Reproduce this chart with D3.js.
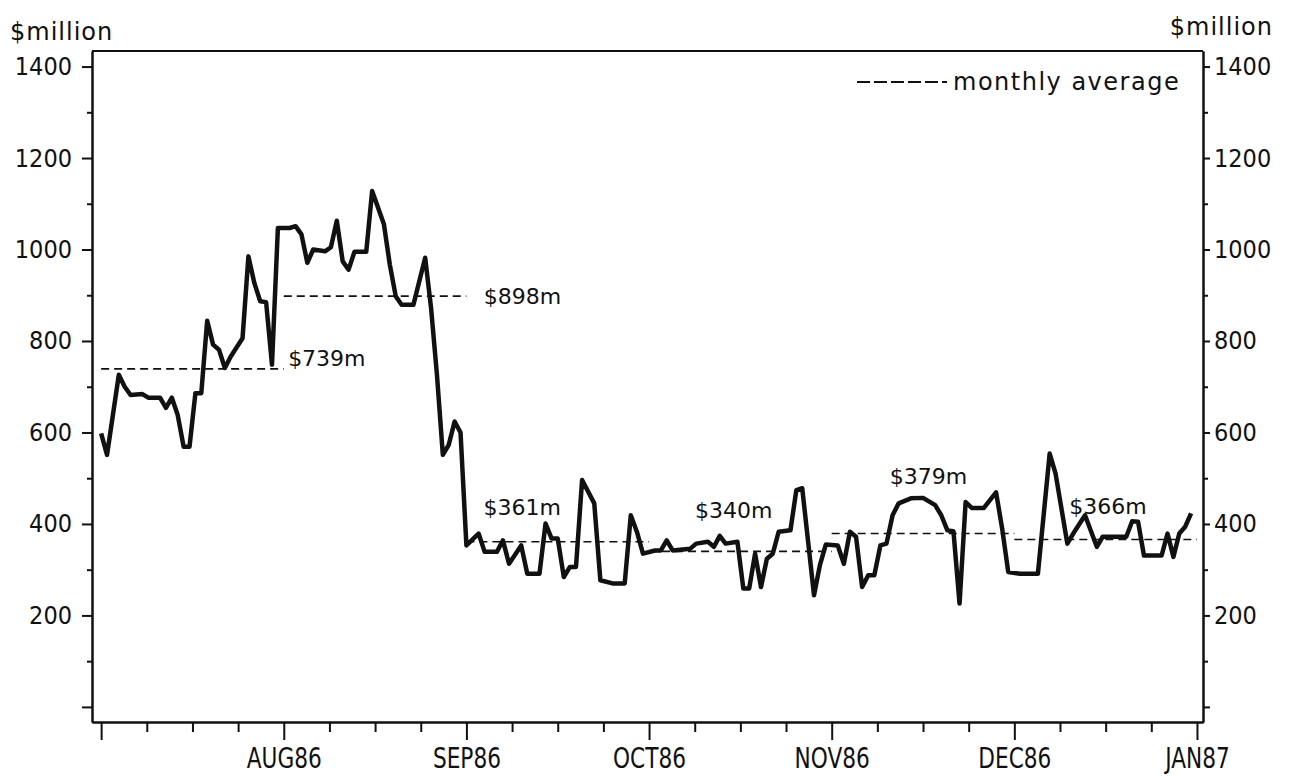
<!DOCTYPE html>
<html>
<head>
<meta charset="utf-8">
<script src="https://cdn.jsdelivr.net/npm/d3@7"></script>
<style>
  body { margin: 0; background: #fff; }
  svg { display: block; }
  .tick line, .domain { stroke: #111; stroke-width: 2; }
  .ylab text { font-family: "DejaVu Sans Condensed", "DejaVu Sans", sans-serif; font-stretch: condensed; font-size: 25px; fill: #111; }
  .xlab text { font-family: "DejaVu Sans Condensed", "DejaVu Sans", sans-serif; font-stretch: condensed; font-size: 28px; fill: #111; }
  .unit { font-family: "DejaVu Sans", sans-serif; font-size: 24px; letter-spacing: 1px; fill: #111; }
  .avglab { font-family: "DejaVu Sans", sans-serif; font-size: 22px; fill: #111; }
  .legend { font-family: "DejaVu Sans", sans-serif; font-size: 24px; letter-spacing: 1.5px; fill: #111; }
</style>
</head>
<body>
<svg id="chart" width="1300" height="776"></svg>
<script>
// month labels on the x axis (index 0 = JUL86, unlabelled)
const months = ["", "AUG86", "SEP86", "OCT86", "NOV86", "DEC86", "JAN87"];
const monthDays = [31, 31, 30, 31, 30, 31];

// daily values, [day of month, $million]
const jul = [[1,598],[2,551],[4,726],[5,700],[6,682],[8,684],[9,676],[11,676],[12,654],[13,676],[14,638],[15,569],[16,569],[17,686],[18,686],[19,844],[20,792],[21,781],[22,741],[23,766],[25,806],[26,985],[27,927],[28,887],[29,885],[30,748],[31,1047]];
const aug = [[2,1047],[3,1051],[4,1033],[5,971],[6,1000],[8,996],[9,1005],[10,1063],[11,974],[12,956],[13,995],[15,995],[16,1128],[18,1055],[19,967],[20,898],[21,879],[23,879],[25,982],[26,872],[27,726],[28,551],[29,573],[30,624],[31,600]];
const sep = [[1,353],[3,379],[4,339],[6,339],[7,364],[8,313],[10,353],[11,291],[13,291],[14,401],[15,368],[16,368],[17,284],[18,306],[19,306],[20,496],[22,445],[23,277],[25,270],[27,270],[28,419],[29,383],[30,335]];
const oct = [[2,342],[3,342],[4,364],[5,342],[8,346],[9,357],[11,361],[12,350],[13,374],[14,357],[16,361],[17,259],[18,259],[19,335],[20,262],[21,324],[22,335],[23,383],[25,386],[26,474],[27,478],[28,361],[29,244],[30,310],[31,355]];
const nov = [[2,353],[3,313],[4,383],[5,372],[6,262],[7,288],[8,288],[9,353],[10,357],[11,419],[12,445],[14,456],[16,457],[18,441],[19,419],[20,386],[21,384],[22,226],[23,448],[24,435],[26,435],[28,469],[29,390],[30,295]];
const dec = [[2,291],[5,291],[7,554],[8,510],[10,357],[11,379],[13,419],[15,350],[16,372],[20,372],[21,406],[22,405],[23,331],[26,331],[27,379],[28,328],[29,379],[30,394],[31,423]];

// monthly averages, $million
const averages = [739, 898, 361, 340, 379, 366];

const yMajor = [0, 200, 400, 600, 800, 1000, 1200, 1400];
const yMinor = [100, 300, 500, 700, 900, 1100, 1300];

const svg = d3.select("#chart");
const plotL = 92, plotR = 1203, plotT = 51, plotB = 722;

const x = d3.scaleLinear().domain([-0.05, 6.033]).range([plotL, plotR]);
const y = d3.scaleLinear().domain([-33, 1434]).range([plotB, plotT]);

const toT = (m, day) => m + (day - 1) / monthDays[m];
const series = [jul, aug, sep, oct, nov, dec].flatMap((arr, m) =>
  arr.map(([d, v]) => ({t: toT(m, d), v})));

// frame
svg.append("line").attr("x1", plotL).attr("x2", plotR).attr("y1", plotT).attr("y2", plotT)
  .attr("stroke", "#111").attr("stroke-width", 2);

// y axes
svg.append("g").attr("transform", `translate(${plotL},0)`)
  .call(d3.axisLeft(y).tickValues(yMinor).tickSize(5).tickSizeOuter(0).tickFormat(""));
svg.append("g").attr("class", "ylab").attr("transform", `translate(${plotL},0)`)
  .call(d3.axisLeft(y).tickValues(yMajor).tickSize(10).tickSizeOuter(0).tickPadding(10)
    .tickFormat(d => d ? d : ""));
svg.append("g").attr("transform", `translate(${plotR},0)`)
  .call(d3.axisRight(y).tickValues(yMinor).tickSize(5).tickSizeOuter(0).tickFormat(""));
svg.append("g").attr("class", "ylab").attr("transform", `translate(${plotR},0)`)
  .call(d3.axisRight(y).tickValues(yMajor).tickSize(7).tickSizeOuter(0).tickPadding(4)
    .tickFormat(d => d ? d : ""));

// x axis: quarter-month minor ticks, month majors
svg.append("g").attr("transform", `translate(0,${plotB})`)
  .call(d3.axisBottom(x).tickValues(d3.range(0, 24).filter(i => i % 4).map(i => i / 4))
    .tickSize(10).tickSizeOuter(0).tickFormat(""));
svg.append("g").attr("class", "xlab").attr("transform", `translate(0,${plotB})`)
  .call(d3.axisBottom(x).tickValues(d3.range(0, 7)).tickSize(18).tickSizeOuter(0).tickPadding(8)
    .tickFormat(i => months[i]))
  .selectAll("text").attr("transform", "scale(0.86,1)");

// unit labels
svg.append("text").attr("class", "unit").attr("x", 10).attr("y", 40).text("$million");
svg.append("text").attr("class", "unit").attr("x", 1273).attr("y", 35)
  .attr("text-anchor", "end").text("$million");

// monthly average dashed lines
svg.append("g").selectAll("line").data(averages).join("line")
  .attr("x1", (d, i) => x(i)).attr("x2", (d, i) => x(i + 1))
  .attr("y1", d => y(d)).attr("y2", d => y(d))
  .attr("stroke", "#111").attr("stroke-width", 1.6).attr("stroke-dasharray", "8,5");

// average labels: [dx from month start, dy from line]
const avgLabelPos = [[187, -3], [200, 8], [17, -27], [46, -33], [58, -50], [55, -25]];
svg.append("g").selectAll("text").data(averages).join("text")
  .attr("class", "avglab")
  .attr("x", (d, i) => x(i) + avgLabelPos[i][0])
  .attr("y", (d, i) => y(d) + avgLabelPos[i][1])
  .text(d => `$${d}m`);

// daily series
svg.append("path").datum(series)
  .attr("fill", "none").attr("stroke", "#111").attr("stroke-width", 4.5)
  .attr("stroke-linejoin", "round")
  .attr("d", d3.line().x(d => x(d.t)).y(d => y(d.v)));

// legend
svg.append("line").attr("x1", 857).attr("x2", 947).attr("y1", 82).attr("y2", 82)
  .attr("stroke", "#111").attr("stroke-width", 1.8).attr("stroke-dasharray", "13,4");
svg.append("text").attr("class", "legend").attr("x", 953).attr("y", 90).text("monthly average");
</script>
</body>
</html>
